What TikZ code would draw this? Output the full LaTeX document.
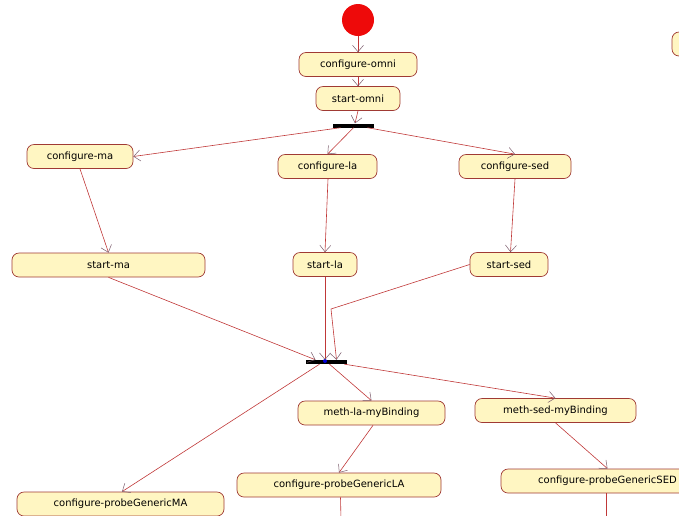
\documentclass[tikz,border=0pt]{standalone}
\usepackage{fontspec}
\newfontfamily\actfont{DejaVu Sans}
\usetikzlibrary{arrows.meta}
\definecolor{actfill}{HTML}{FFF6C2}
\definecolor{actline}{HTML}{A03A34}
\definecolor{flowline}{HTML}{C03838}
\definecolor{tipline}{HTML}{7A5A6A}
\definecolor{initred}{HTML}{EE0A0A}
\begin{document}
\begin{tikzpicture}[x=1pt,y=-1pt,
  act/.style={draw=actline, fill=actfill, line width=0.7pt, rounded corners=7pt,
    minimum height=24pt, inner sep=0pt, font=\actfont\fontsize{10}{12}\selectfont},
  bar/.style={fill=black, draw=none, minimum height=4pt, inner sep=0pt},
  flow/.style={draw=flowline, line width=0.6pt,
    -{Straight Barb[length=6.5pt,width=11pt,color=tipline,line width=0.5pt]}},
  plain/.style={draw=flowline, line width=0.6pt}]
\useasboundingbox (0,0) rectangle (679,515);
\clip (0,0) rectangle (679,515);

% initial state and first actions
\node[circle, fill=initred, minimum size=32pt, inner sep=0pt] (init) at (358,20) {};
\node[act, minimum width=118pt] (comni) at (358,64.5) {configure-omni};
\node[act, minimum width=84pt] (somni) at (358,98.5) {start-omni};
\node[bar, minimum width=41pt] (bar1) at (353.5,125.5) {};

% partially visible action at the top right
\node[act, minimum width=100pt] (extra) at (722,44) {};

% configure / start actions
\node[act, minimum width=106pt] (cma) at (80,156.5) {configure-ma};
\node[act, minimum width=99pt] (cla) at (327.5,166.5) {configure-la};
\node[act, minimum width=112pt] (csed) at (515,166.5) {configure-sed};
\node[act, minimum width=193pt] (sma) at (108.5,265) {start-ma};
\node[act, minimum width=64pt] (sla) at (325,264.5) {start-la};
\node[act, minimum width=78pt] (ssed) at (509,264.5) {start-sed};

% join bar
\node[bar, minimum width=41pt] (bar2) at (326.5,362) {};
\node[circle, fill=blue!85!black, minimum size=4pt, inner sep=0pt] (dot) at (325,361) {};

% binding and probe actions
\node[act, minimum width=147pt] (mla) at (371.5,413) {meth-la-myBinding};
\node[act, minimum width=161pt] (msed) at (555.5,410.5) {meth-sed-myBinding};
\node[act, minimum width=207pt] (pgma) at (120.5,504) {configure-probeGenericMA};
\node[act, minimum width=204pt] (pgla) at (339,485) {configure-probeGenericLA};
\node[act, minimum width=213pt] (pgsed) at (607.5,481) {configure-probeGenericSED};

\coordinate (kink) at (331,309);
\coordinate (laout) at (341,520);
\coordinate (sedout) at (606,520);

% control flow
\draw[flow] (init.south) -- (comni.north);
\draw[flow] (comni.south) -- (somni.north);
\draw[flow] (somni.south) -- ([xshift=1.5pt]bar1.north);
\draw[flow] ([xshift=-13pt]bar1.south) -- (cma.east);
\draw[flow] ([xshift=0pt]bar1.south) -- (cla.north);
\draw[flow] ([xshift=14pt]bar1.south) -- (csed.north);
\draw[flow] (cma.south) -- (sma.north);
\draw[flow] ([xshift=0.5pt]cla.south) -- (sla.north);
\draw[flow] (csed.south) -- ([xshift=1.5pt]ssed.north);
\draw[flow] (sma.south) -- ([xshift=-11pt]bar2.north);
\draw[flow] (sla.south) -- ([xshift=-1.5pt]bar2.north);
\draw[flow] (ssed.west) -- (kink) -- ([xshift=10pt]bar2.north);
\draw[flow] ([xshift=-7pt]bar2.south) -- ([xshift=1.5pt]pgma.north);
\draw[flow] ([xshift=3pt]bar2.south) -- (mla.north);
\draw[flow] ([xshift=18pt]bar2.south) -- (msed.north);
\draw[flow] ([xshift=1.5pt]mla.south) -- (pgla.north);
\draw[flow] (msed.south) -- (pgsed.north);
\draw[plain] ([xshift=1.5pt]pgla.south) -- (laout);
\draw[plain] ([xshift=-1.5pt]pgsed.south) -- (sedout);
\end{tikzpicture}
\end{document}
